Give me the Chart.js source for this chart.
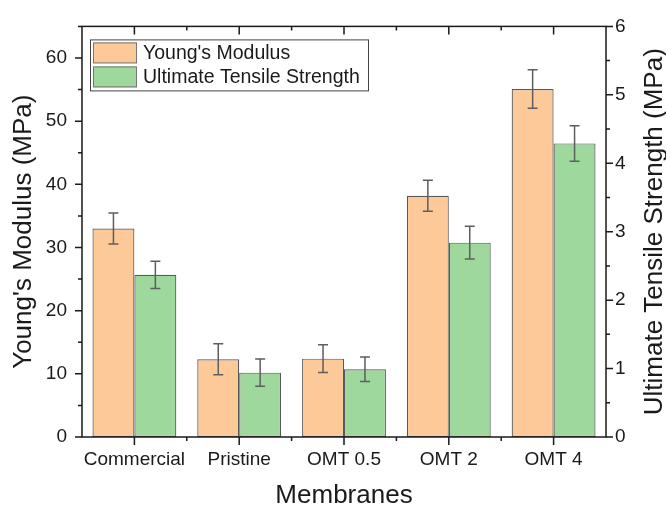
<!DOCTYPE html>
<html>
<head>
<meta charset="utf-8">
<script src="https://cdn.jsdelivr.net/npm/chart.js@4.4.0/dist/chart.umd.min.js"></script>
<style>
    html, body { margin: 0; padding: 0; background: #fff; }
    #wrap { width: 666px; height: 506px; }
</style>
</head>
<body>
<div id="wrap"><canvas id="membrane-chart" width="666" height="506"></canvas></div>
<script>
const membranes = ['Commercial', 'Pristine', 'OMT 0.5', 'OMT 2', 'OMT 4'];
const youngsModulus = [33.0, 12.3, 12.4, 38.2, 55.1];
const youngsModulusErr = [2.45, 2.45, 2.2, 2.45, 3.05];
const tensileStrength = [2.37, 0.94, 0.99, 2.84, 4.29];
const tensileStrengthErr = [0.2, 0.2, 0.18, 0.24, 0.26];
const modulusTicks = [0, 10, 20, 30, 40, 50, 60];
const modulusMinorTicks = [5, 15, 25, 35, 45, 55, 65];
const strengthTicks = [0, 1, 2, 3, 4, 5, 6];
const strengthMinorTicks = [0.5, 1.5, 2.5, 3.5, 4.5, 5.5];

const FONT = '"Liberation Sans", Arial, sans-serif';
const INK = '#1a1a1a';

// frame + major/minor tick marks (Origin style)
const frameTicks = {
    id: 'frameTicks',
    afterDraw(chart) {
        const ctx = chart.ctx;
        const a = chart.chartArea;
        const x = chart.scales.x, y = chart.scales.y, y2 = chart.scales.y2;
        ctx.save();
        ctx.strokeStyle = INK;
        ctx.lineWidth = 1.5;
        ctx.strokeRect(a.left, a.top, a.right - a.left, a.bottom - a.top);
        ctx.beginPath();
        modulusTicks.forEach(v => { const p = y.getPixelForValue(v); ctx.moveTo(a.left - 7, p); ctx.lineTo(a.left, p); });
        modulusMinorTicks.forEach(v => { const p = y.getPixelForValue(v); ctx.moveTo(a.left - 4, p); ctx.lineTo(a.left, p); });
        strengthTicks.forEach(v => { const p = y2.getPixelForValue(v); ctx.moveTo(a.right, p); ctx.lineTo(a.right + 7, p); });
        strengthMinorTicks.forEach(v => { const p = y2.getPixelForValue(v); ctx.moveTo(a.right, p); ctx.lineTo(a.right + 4, p); });
        const step = x.getPixelForValue(1) - x.getPixelForValue(0);
        membranes.forEach((m, i) => {
            const p = x.getPixelForValue(i);
            ctx.moveTo(p, a.bottom); ctx.lineTo(p, a.bottom + 8);
            ctx.moveTo(p, a.top); ctx.lineTo(p, a.top + 8);
            if (i > 0) {
                const b = p - step / 2;
                ctx.moveTo(b, a.bottom); ctx.lineTo(b, a.bottom + 4);
                ctx.moveTo(b, a.top); ctx.lineTo(b, a.top + 4);
            }
        });
        ctx.stroke();
        ctx.restore();
    }
};

const errorBars = {
    id: 'errorBars',
    afterDatasetsDraw(chart) {
        const ctx = chart.ctx;
        ctx.save();
        ctx.strokeStyle = '#5e5e5e';
        ctx.lineWidth = 1.5;
        chart.data.datasets.forEach((ds, i) => {
            const meta = chart.getDatasetMeta(i);
            const scale = chart.scales[meta.yAxisID];
            meta.data.forEach((bar, j) => {
                const top = scale.getPixelForValue(ds.data[j] + ds.errors[j]);
                const bot = scale.getPixelForValue(ds.data[j] - ds.errors[j]);
                ctx.beginPath();
                ctx.moveTo(bar.x, top); ctx.lineTo(bar.x, bot);
                ctx.moveTo(bar.x - 5, top); ctx.lineTo(bar.x + 5, top);
                ctx.moveTo(bar.x - 5, bot); ctx.lineTo(bar.x + 5, bot);
                ctx.stroke();
            });
        });
        ctx.restore();
    }
};

// legend box inside the plot, top-left
const boxLegend = {
    id: 'boxLegend',
    afterDraw(chart) {
        const ctx = chart.ctx;
        const a = chart.chartArea;
        const left = a.left + 8, top = a.top + 13;
        ctx.save();
        ctx.strokeStyle = '#444';
        ctx.lineWidth = 1;
        ctx.strokeRect(left + 0.5, top + 0.5, 278, 51);
        ctx.font = '19.5px ' + FONT;
        ctx.textBaseline = 'alphabetic';
        ctx.fillStyle = INK;
        chart.data.datasets.forEach((ds, i) => {
            const sy = top + 3 + i * 24;
            ctx.fillStyle = ds.backgroundColor;
            ctx.fillRect(left + 3, sy, 44, 21);
            ctx.strokeStyle = '#777';
            ctx.strokeRect(left + 3.5, sy + 0.5, 43, 20);
            ctx.fillStyle = INK;
            ctx.fillText(ds.label, left + 53, sy + 17);
        });
        ctx.restore();
    }
};

// right axis title reads bottom-to-top, Chart.js would rotate it the other way
const rightTitle = {
    id: 'rightTitle',
    afterDraw(chart) {
        const ctx = chart.ctx;
        const a = chart.chartArea;
        ctx.save();
        ctx.translate(662, (a.top + a.bottom) / 2);
        ctx.rotate(-Math.PI / 2);
        ctx.font = '26px ' + FONT;
        ctx.fillStyle = INK;
        ctx.textAlign = 'center';
        ctx.textBaseline = 'alphabetic';
        ctx.fillText('Ultimate Tensile Strength (MPa)', 0, 0);
        ctx.restore();
    }
};

new Chart(document.getElementById('membrane-chart').getContext('2d'), {
    type: 'bar',
    data: {
        labels: membranes,
        datasets: [
            {
                label: "Young's Modulus",
                data: youngsModulus,
                errors: youngsModulusErr,
                yAxisID: 'y',
                backgroundColor: '#FDC998',
                borderColor: 'rgba(70, 70, 70, 0.9)',
                borderWidth: 1.2,
                borderSkipped: false
            },
            {
                label: 'Ultimate Tensile Strength',
                data: tensileStrength,
                errors: tensileStrengthErr,
                yAxisID: 'y2',
                backgroundColor: '#9FD89C',
                borderColor: 'rgba(70, 70, 70, 0.9)',
                borderWidth: 1.2,
                borderSkipped: false
            }
        ]
    },
    options: {
        responsive: false,
        animation: false,
        layout: { padding: { top: 15 } },
        datasets: { bar: { categoryPercentage: 0.8, barPercentage: 1.0 } },
        plugins: {
            legend: { display: false },
            tooltip: { enabled: false }
        },
        scales: {
            x: {
                grid: { display: false, drawTicks: false },
                border: { display: false },
                ticks: { color: INK, font: { family: FONT, size: 19 }, padding: 11, maxRotation: 0, autoSkip: false },
                title: {
                    display: true, text: 'Membranes', color: INK,
                    font: { family: FONT, size: 26, lineHeight: 1 },
                    padding: { top: 0, bottom: -3 }
                },
                afterFit: s => { s.height = 69; }
            },
            y: {
                position: 'left',
                min: 0,
                max: 65,
                afterBuildTicks: s => { s.ticks = modulusTicks.map(v => ({ value: v })); },
                grid: { display: false, drawTicks: false },
                border: { display: false },
                ticks: { color: INK, font: { family: FONT, size: 19 }, padding: 15 },
                title: {
                    display: true, text: "Young's Modulus (MPa)", color: INK,
                    font: { family: FONT, size: 26, lineHeight: 1 },
                    padding: { top: 11, bottom: 0 }
                },
                afterFit: s => { s.width = 82; }
            },
            y2: {
                position: 'right',
                min: 0,
                max: 6,
                afterBuildTicks: s => { s.ticks = strengthTicks.map(v => ({ value: v })); },
                grid: { display: false, drawTicks: false },
                border: { display: false },
                ticks: { color: INK, font: { family: FONT, size: 19 }, padding: 9 },
                afterFit: s => { s.width = 60; }
            }
        }
    },
    plugins: [errorBars, frameTicks, boxLegend, rightTitle]
});
</script>
</body>
</html>
